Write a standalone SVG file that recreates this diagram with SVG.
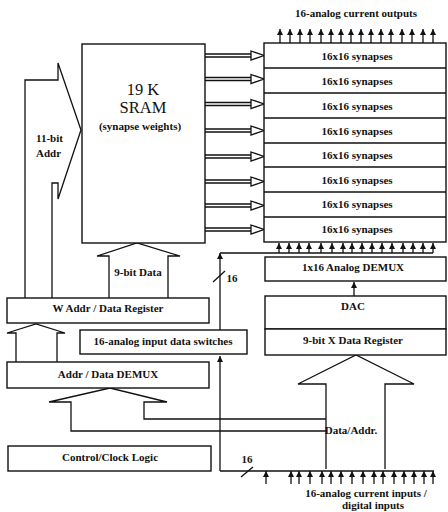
<svg xmlns="http://www.w3.org/2000/svg" width="448" height="512" viewBox="0 0 448 512">
<style>
.bx{fill:#fff;stroke:#111;stroke-width:1.4}
.ln{fill:none;stroke:#111;stroke-width:1.3}
.ha{fill:#fff;stroke:#111;stroke-width:1.3;stroke-linejoin:miter}
.t{font-family:"Liberation Serif","Times New Roman",serif;font-weight:bold;font-size:11px;fill:#111;text-anchor:middle}
.big{font-family:"Liberation Serif","Times New Roman",serif;font-size:16.5px;fill:#111;text-anchor:middle}
</style>
<defs>
<marker id="ah" viewBox="0 0 6 6" refX="6" refY="3" markerWidth="6" markerHeight="6" markerUnits="userSpaceOnUse" orient="auto">
<path d="M0,0 L6,3 L0,6 z" fill="#111"/>
</marker>
<g id="sa">
<path class="ln" d="M205,-1.5 H252 M205,1.5 H252" stroke-width="1.1"/>
<path class="ha" d="M251,-4.5 L264,0 L251,4.5 Z" stroke-width="1.1"/>
</g>
</defs>
<rect width="448" height="512" fill="#fff"/>

<g id="connectors">
<path class="ha" d="M25,298 V80 H58 V63 L81,130 L58,199 V183 H52 V298"/>
<path class="ha" d="M109,298 V256 H97 L137,243 L180,256 H168 V298"/>
<path class="ha" d="M16,362 V333 H7 L36,324 L65,333 H57 V362"/>
<path class="ln" d="M326,431 H71 V402 H49 L110,388 L167,402 H144 V419 H326"/>
<path class="ha" d="M326,469 V384 H298 L356,355 L414,384 H385 V469"/>
<use href="#sa" y="55.5"/>
<use href="#sa" y="79"/>
<use href="#sa" y="104"/>
<use href="#sa" y="130.5"/>
<use href="#sa" y="156.5"/>
<use href="#sa" y="181.5"/>
<use href="#sa" y="205.5"/>
<use href="#sa" y="229.5"/>
<path class="ln" d="M220,471 H434"/>
<path class="ln" d="M220,471 V356" marker-end="url(#ah)"/>
<path class="ln" d="M220,330 V253" marker-end="url(#ah)"/>
<path class="ln" d="M220,253 H433"/>
<path class="ln" d="M213,282 L225,271"/>
<path class="ln" d="M241,477 L253,467"/>
<path class="ln" d="M354,296 V282" marker-end="url(#ah)"/>
<g class="ln" marker-end="url(#ah)">
<path d="M280,43 V29"/><path d="M290,43 V29"/><path d="M300,43 V29"/><path d="M310,43 V29"/>
<path d="M321,43 V29"/><path d="M331,43 V29"/><path d="M341,43 V29"/><path d="M351,43 V29"/>
<path d="M361,43 V29"/><path d="M371,43 V29"/><path d="M381,43 V29"/><path d="M391,43 V29"/>
<path d="M402,43 V29"/><path d="M412,43 V29"/><path d="M423,43 V29"/><path d="M433,43 V29"/>
</g>
<g class="ln" marker-end="url(#ah)">
<path d="M279,253 V243"/><path d="M289,253 V243"/><path d="M299,253 V243"/><path d="M309,253 V243"/>
<path d="M321,253 V243"/><path d="M332,253 V243"/><path d="M343,253 V243"/><path d="M352,253 V243"/>
<path d="M362,253 V243"/><path d="M372,253 V243"/><path d="M382,253 V243"/><path d="M392,253 V243"/>
<path d="M403,253 V243"/><path d="M413,253 V243"/><path d="M423,253 V243"/><path d="M433,253 V243"/>
</g>
<g class="ln" marker-end="url(#ah)">
<path d="M266,484 V471"/><path d="M291,484 V471"/><path d="M299,484 V471"/><path d="M310,484 V471"/>
<path d="M322,484 V471"/><path d="M331,484 V471"/><path d="M341,484 V471"/><path d="M352,484 V471"/>
<path d="M363,484 V471"/><path d="M374,484 V471"/><path d="M383,484 V471"/><path d="M394,484 V471"/>
<path d="M404,484 V471"/><path d="M414,484 V471"/><path d="M424,484 V471"/><path d="M433,484 V471"/>
</g>
</g>

<g id="sram">
<rect class="bx" x="82" y="44" width="123" height="199"/>
<text class="big" x="143" y="95">19 K</text>
<text class="big" x="143" y="113">SRAM</text>
<text class="t" x="140" y="130">(synapse weights)</text>
</g>
<g id="addr-label">
<text class="t" x="36" y="142" style="text-anchor:start">11-bit</text>
<text class="t" x="36" y="157" style="text-anchor:start">Addr</text>
</g>
<g id="data-label"><text class="t" x="138" y="276">9-bit Data</text></g>
<g id="synapses">
<rect class="bx" x="264" y="43" width="182" height="199"/>
<path class="ln" d="M264,68 H446 M264,93 H446 M264,118 H446 M264,143 H446 M264,167 H446 M264,192 H446 M264,217 H446"/>
<text class="t" x="357" y="59.5">16x16 synapses</text>
<text class="t" x="357" y="84.5">16x16 synapses</text>
<text class="t" x="357" y="109.5">16x16 synapses</text>
<text class="t" x="357" y="134.5">16x16 synapses</text>
<text class="t" x="357" y="158.5">16x16 synapses</text>
<text class="t" x="357" y="183.5">16x16 synapses</text>
<text class="t" x="357" y="208">16x16 synapses</text>
<text class="t" x="357" y="233">16x16 synapses</text>
</g>
<g id="outputs-label"><text class="t" x="356" y="17">16-analog current outputs</text></g>
<g id="waddr"><rect class="bx" x="7" y="298" width="202" height="25"/><text class="t" x="108" y="312">W Addr / Data Register</text></g>
<g id="switches"><rect class="bx" x="80" y="330" width="167" height="24"/><text class="t" x="163" y="345">16-analog input data switches</text></g>
<g id="demux"><rect class="bx" x="7" y="362" width="202" height="26"/><text class="t" x="108" y="378">Addr / Data DEMUX</text></g>
<g id="control"><rect class="bx" x="8" y="446" width="203" height="25"/><text class="t" x="110" y="461">Control/Clock Logic</text></g>
<g id="ademux"><rect class="bx" x="265" y="257" width="181" height="24"/><text class="t" x="353" y="271">1x16 Analog DEMUX</text></g>
<g id="dac"><rect class="bx" x="265" y="296" width="181" height="33"/><text class="t" x="353" y="310">DAC</text></g>
<g id="xreg"><rect class="bx" x="265" y="329" width="181" height="26"/><text class="t" x="353" y="344">9-bit X Data Register</text></g>
<g id="bus-labels">
<text class="t" x="232" y="282">16</text>
<text class="t" x="247" y="463">16</text>
<text class="t" x="351" y="434">Data/Addr.</text>
<text class="t" x="366" y="497">16-analog current inputs /</text>
<text class="t" x="373" y="509">digital inputs</text>
</g>
</svg>
